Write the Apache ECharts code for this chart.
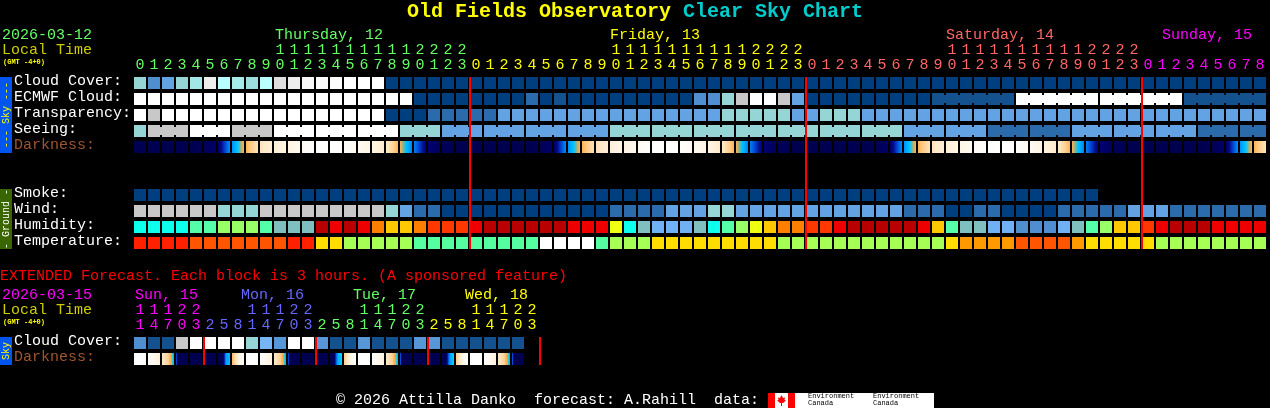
<!DOCTYPE html>
<html><head><meta charset="utf-8">
<style>html,body{margin:0;padding:0;background:#000}#c{width:1270px;height:408px}</style>
<script src="https://cdn.jsdelivr.net/npm/echarts@6/dist/echarts.min.js"></script>
</head><body><div id="c"></div>
<script>
const rowLabels = ['Cloud Cover:','ECMWF Cloud:','Transparency:','Seeing:','Darkness:','','','Smoke:','Wind:','Humidity:','Temperature:'];
const extRowLabels = ['Cloud Cover:','Darkness:'];

const hours = [0,1,2,3,4,5,6,7,8,9,10,11,12,13,14,15,16,17,18,19,20,21,22,23,
 0,1,2,3,4,5,6,7,8,9,10,11,12,13,14,15,16,17,18,19,20,21,22,23,
 0,1,2,3,4,5,6,7,8,9,10,11,12,13,14,15,16,17,18,19,20,21,22,23,
 0,1,2,3,4,5,6,7,8];
const extHours = [11,14,17,20,23,2,5,8,11,14,17,20,23,2,5,8,11,14,17,20,23,2,5,8,11,14,17,20,23];
const dayOfCol = [0,0,0,0,0,0,0,0,0,0,0,0,0,0,0,0,0,0,0,0,0,0,0,0,
 1,1,1,1,1,1,1,1,1,1,1,1,1,1,1,1,1,1,1,1,1,1,1,1,
 2,2,2,2,2,2,2,2,2,2,2,2,2,2,2,2,2,2,2,2,2,2,2,2,
 3,3,3,3,3,3,3,3,3];
const extDayOfCol = [3,3,3,3,3,4,4,4,4,4,4,4,4,0,0,0,0,0,0,0,0,1,1,1,1,1,1,1,1];
const dayColors = ['#66FF66','#FFFF00','#FF6666','#FF00FF','#6666FF'];

const cloudCover = [6,3,4,6,6.4,9,7,6.5,6.2,7,8.6,9,9.6,9.8,9.8,10,10,10,0,0,0,0,0,0,
 0,0,0,0,0,0,0,0,0,0,0,0,0,0,0,0,0,0,0,0,0,0,0,0,
 0,0,0,0,0,0,0,0,0,0,0,0,0,0,0,0,0,0,0,0,0,0,0,0,
 0,0,0,0,0,0,0,0,0];
const ecmwfCloud = [10,10,10,10,10,10,10,10,10,10,10,10,10,10,10,10,10,10,10,10,0,0,0,0,
 0,0,0,0,2,0,1,0,0,0,0,0,0,0,0,0,3,3,6,8,10,10,8,4,
 0,0,0,0,0,0,0,0,0,1,1,1,1,1,1,10,10,10,10,10,10,10,10,10,
 10,10,10,1,1,1,1,1,1];
const transparency = [10,8,10,10,10,10,10,10,10,10,10,10,10,10,10,10,10,10,0,0,0,2,2,2,
 2,2,4,4,4,4,4,4,4,4,4,4,4,4,4,4,4,4,6,6,6,6,6,4,
 4,6,6,6,4,4,4,4,4,4,4,4,4,4,4,4,4,4,4,4,4,4,4,4,
 4,4,4,4,4,4,4,4,4];
const seeing = [6,8,8,8,10,10,10,8,8,8,10,10,10,10,10,10,10,10,10,6,6,6,4,4,
 4,4,4,4,4,4,4,4,4,4,6,6,6,6,6,6,6,6,6,6,6,6,6,6,
 6,6,6,6,6,6,6,4,4,4,4,4,4,2,2,2,2,2,2,4,4,4,4,4,
 4,4,4,4,2,2,2,2,2];
const smoke = [0,0,0,0,0,0,0,0,0,0,0,0,0,0,0,0,0,0,0,0,0,0,0,0,
 0,0,0,0,0,0,0,0,0,0,0,0,0,0,0,0,0,0,0,0,0,0,0,0,
 0,0,0,0,0,0,0,0,0,0,0,0,0,0,0,0,0,0,0,0,0];
const wind = [8,8,8,8,8,8,6,6,6,8,8,8,8,8,8,8,8,8,6,4,2,2,0,0,
 0,0,0,0,0,0,0,0,0,0,2,2,2,2,4,4,4,6,6,4,4,4,4,4,
 4,4,4,4,4,4,4,2,2,2,0,0,2,2,0,0,0,0,2,2,2,2,2,4,
 4,4,2,2,2,2,2,2,2];
const humidity = [3,3,3,3,4,4,5,5,5,4,2,2,2,11,10,11,10,8,7,7,8,9,9,9,
 10,11,11,11,11,11,11,10,10,10,6,3,2,1,1,1,2,3,4,5,6,7,8,8,
 9,9,10,11,11,11,11,11,10,7,4,2,2,1,1,0,0,0,1,2,4,5,7,7,
 9,10,11,11,11,10,10,10,10];
const temperature = [0,0,0,0,1,1,1,1,1,1,1,0,0,3,3,4,4,4,4,4,5,5,5,5,
 5,5,5,5,5,6,6,6,6,5,4,4,4,3,3,3,3,3,3,3,3,3,4,4,
 4,4,4,4,4,4,4,4,4,4,3,2,2,2,2,1,1,1,1,2,3,3,3,3,
 3,4,4,4,4,4,4,4,4];
const darknessEdges = [0,0,0,0,0,2,5,28,45,58,65,72,80,94,100,94,82,72,62,45,26,8,2,0,
 0,0,0,0,0,1,5,28,45,57,66,73,81,94,100,95,83,72,61,45,26,8,2,0,
 0,0,0,0,0,1,5,28,45,58,65,74,82,95,100,94,82,71,62,45,26,8,2,0,
 0,0,0,0,0,1,5,28,45,58];
const seeingBlocks = [0,1,4,7,10,13,16,19,22,25,28,31,34,37,40,43,46,49,52,55,58,61,64,67,70,73,76,79];
const ecmwfBlocks = [57,63,69,75];

const extCloud = [3,1,1,8,10,10,10,10,6,5,3.4,10,10,3.4,1,1,3.4,1,1,1,3.4,3.4,1,1,1,1,1,1];
const extDarkness = [
 [100,100,100,98,95,90,88],[98,92,86,80,76,72,68],[60,58,55,52,46,41,32],[24,0,0,0,0,0,0],
 [0,0,0,0,0,0,0],[0,0,0,0,0,0,0],[0,0,0,10,30,32,34],[46,52,58,66,75,85,92],
 [100,100,100,100,100,100,98],[98,92,86,80,76,72,68],[60,58,55,52,46,41,32],[24,0,0,0,0,0,0],
 [0,0,0,0,0,0,0],[0,0,0,0,0,0,0],[0,0,0,20,32,36,38],[50,56,62,70,80,88,92],
 [100,100,100,100,100,100,98],[96,90,84,78,74,72,68],[60,58,55,52,46,41,32],[26,0,0,0,0,0,0],
 [0,0,0,0,0,0,0],[0,0,0,0,0,0,0],[0,0,0,18,30,34,39.5],[50,56,62,70,80,88,92],
 [100,100,100,100,100,100,98],[98,92,86,80,76,72,68],[60,58,55,52,46,41,32],[26,0,0,0,0,0,0]];
const midnightCols = [24,48,72];
const extMidnightCols = [5,13,21,29];

const skyScale = ['#003F7F','#13528F','#2C6BAB','#4F8FCF','#63A3E3','#76B6F6','#95D5D5','#B9FFFF','#C8C8C8','#EDEDED','#FFFFFF'];
const humidityScale = ['#4F8FCF','#70B0F5','#80BFBF','#0DFFEE','#55FFAA','#99FF66','#EEFF11','#FFC800','#FF8000','#FF3800','#EE0000','#B80000'];
const temperatureScale = ['#FF2000','#FF5500','#FF9900','#FFDD00','#A5FF55','#55FFA0','#FFFFFF'];
const darkStops = [[0,'#000050'],[10,'#000080'],[20,'#0050E0'],[30,'#00A0FF'],[38,'#00D0FF'],[42,'#FFA030'],[50,'#FFCC88'],[60,'#FFE8C8'],[70,'#FFF4E0'],[85,'#FFFBF5'],[100,'#FFFFFF']];

const FONT = '"Liberation Mono"';
const texts = [
 ['Old Fields Observatory',407,12,'#FFFF00','bold 20px '+FONT],
 ['Clear Sky Chart',683,12,'#00CCCC','bold 20px '+FONT],
 ['2026-03-12',2,35,'#66FF66','15px '+FONT],
 ['Local Time',2,50,'#CCCC00','15px '+FONT],
 ['(GMT -4+0)',3,62,'#FFFF00','bold 7px '+FONT],
 ['Thursday, 12',275,35,'#66FF66','15px '+FONT],
 ['Friday, 13',610,35,'#FFFF00','15px '+FONT],
 ['Saturday, 14',946,35,'#FF6666','15px '+FONT],
 ['Sunday, 15',1162,35,'#FF00FF','15px '+FONT],
 ['EXTENDED Forecast. Each block is 3 hours. (A sponsored feature)',0,276,'#FF0000','15px '+FONT],
 ['2026-03-15',2,295,'#FF00FF','15px '+FONT],
 ['Sun, 15',135,295,'#FF00FF','15px '+FONT],
 ['Mon, 16',241,295,'#6666FF','15px '+FONT],
 ['Tue, 17',353,295,'#66FF66','15px '+FONT],
 ['Wed, 18',465,295,'#FFFF00','15px '+FONT],
 ['Local Time',2,310,'#CCCC00','15px '+FONT],
 ['(GMT -4+0)',3,322,'#FFFF00','bold 7px '+FONT],
 ['\u00A9 2026 Attilla Danko  forecast: A.Rahill  data:',336,400,'#FFFFFF','15px '+FONT],
 ['Environment',808,396,'#000000','7px '+FONT],
 ['Canada',808,403,'#000000','7px '+FONT],
 ['Environment',873,396,'#000000','7px '+FONT],
 ['Canada',873,403,'#000000','7px '+FONT]
];

function hex(c){return [1,3,5].map(i=>parseInt(c.substr(i,2),16));}
function mix(a,b,t){const A=hex(a),B=hex(b);return 'rgb('+A.map((v,i)=>Math.round(v+(B[i]-v)*t)).join(',')+')';}
function levelColor(scale,v){const i=Math.floor(v);if(i>=scale.length-1)return scale[scale.length-1];return v===i?scale[i]:mix(scale[i],scale[i+1],v-i);}
function darkColor(v){for(let i=1;i<darkStops.length;i++){if(v<=darkStops[i][0]){const a=darkStops[i-1],b=darkStops[i];return mix(a[1],b[1],(v-a[0])/(b[0]-a[0]));}}return '#FFFFFF';}

const CELL_W=12,CELL_H=12,STUB_H=8;
function cellSeries(gridIndex,row,values,scale,blocks){
 const blockOf=i=>{if(!blocks)return null;let b=null;for(const s of blocks)if(i>=s)b=s;return b;};
 return {type:'custom',xAxisIndex:gridIndex,yAxisIndex:gridIndex,silent:true,animation:false,clip:false,
  data:values.map((v,i)=>[i,row,v]),
  renderItem(p,api){
   const i=api.value(0),v=api.value(2),c=api.coord([i,api.value(1)]),s=api.size([1,1]);
   const fill=levelColor(scale,v);
   const kids=[{type:'rect',shape:{x:c[0]-CELL_W/2,y:c[1]-CELL_H/2,width:CELL_W,height:CELL_H},style:{fill}}];
   if(blocks&&blockOf(i)!==null&&blockOf(i)===blockOf(i+1)&&i+1<values.length&&values[i+1]===v)
    kids.push({type:'rect',shape:{x:c[0]+CELL_W/2,y:c[1]-STUB_H/2,width:s[0]-CELL_W,height:STUB_H},style:{fill}});
   return {type:'group',children:kids};
  }};
}
function gradSeries(gridIndex,row,samples){
 return {type:'custom',xAxisIndex:gridIndex,yAxisIndex:gridIndex,silent:true,animation:false,clip:false,
  data:samples.map((v,i)=>[i,row]),
  renderItem(p,api){
   const i=api.value(0),c=api.coord([i,api.value(1)]),vals=samples[i];
   const stops=[];
   for(let k=0;k<vals.length-1;k++)for(let j=0;j<4;j++){
     stops.push({offset:(k+j/4)/(vals.length-1),color:darkColor(vals[k]+(vals[k+1]-vals[k])*j/4)});
   }
   stops.push({offset:1,color:darkColor(vals[vals.length-1])});
   return {type:'rect',shape:{x:c[0]-CELL_W/2,y:c[1]-CELL_H/2,width:CELL_W,height:CELL_H},
    style:{fill:new echarts.graphic.LinearGradient(0,0,1,0,stops)}};
  }};
}
function lineSeries(gridIndex,cols,firstRow,lastRow){
 return {type:'custom',xAxisIndex:gridIndex,yAxisIndex:gridIndex,silent:true,animation:false,clip:false,z:5,
  data:cols.map(c=>[c,firstRow]),
  renderItem(p,api){
   const t=api.coord([api.value(0),firstRow]),b=api.coord([api.value(0),lastRow]),s=api.size([1,1]);
   return {type:'rect',shape:{x:t[0]-s[0]/2,y:t[1]-CELL_H/2,width:2,height:b[1]-t[1]+CELL_H},style:{fill:'#FF0000'}};
  }};
}
function xAxisOf(gridIndex,hrs,colors,count){
 const cats=[];for(let i=0;i<count;i++)cats.push(i);
 return {type:'category',gridIndex,position:'top',data:cats,axisLine:{show:false},axisTick:{show:false},splitLine:{show:false},
  axisLabel:{show:true,interval:0,margin:2,hideOverlap:false,fontFamily:FONT,fontSize:15,lineHeight:15,
   formatter:(v,i)=>{const h=hrs[i];if(h===undefined)return '';return h>=10?Math.floor(h/10)+'\n'+(h%10):' \n'+h;},
   color:(v,i)=>colors(i)}};
}
function yAxisOf(gridIndex,labels){
 return {type:'category',gridIndex,inverse:true,data:labels.map((l,i)=>i),axisLine:{show:false},axisTick:{show:false},splitLine:{show:false},
  axisLabel:{interval:0,margin:119,align:'left',fontFamily:FONT,fontSize:15,verticalAlign:'bottom',lineHeight:4,formatter:(v,i)=>labels[i],
   color:(v,i)=>labels[i]==='Darkness:'?'#A0562D':'#FFFFFF'}};
}
const mainDarkness=hours.map((h,i)=>[darknessEdges[i],darknessEdges[i+1]]);
const option={backgroundColor:'#000',animation:false,
 grid:[{left:133,top:75,width:hours.length*14,height:rowLabels.length*16},{left:133,top:335,width:30*14,height:32}],
 xAxis:[xAxisOf(0,hours,i=>dayColors[dayOfCol[i]],hours.length),
        xAxisOf(1,extHours,i=>extDayOfCol[i]===undefined?'#000':dayColors[extDayOfCol[i]],30)],
 yAxis:[yAxisOf(0,rowLabels),yAxisOf(1,extRowLabels)],
 series:[
  cellSeries(0,0,cloudCover,skyScale),
  cellSeries(0,1,ecmwfCloud,skyScale,ecmwfBlocks),
  cellSeries(0,2,transparency,skyScale),
  cellSeries(0,3,seeing,skyScale,seeingBlocks),
  gradSeries(0,4,mainDarkness),
  cellSeries(0,7,smoke,skyScale),
  cellSeries(0,8,wind,skyScale),
  cellSeries(0,9,humidity,humidityScale),
  cellSeries(0,10,temperature,temperatureScale),
  lineSeries(0,midnightCols,0,10),
  cellSeries(1,0,extCloud,skyScale),
  gradSeries(1,1,extDarkness),
  lineSeries(1,extMidnightCols,0,1)
 ],
 graphic:[
  {type:'rect',shape:{x:0,y:77,width:12,height:76},style:{fill:'#0055EE'}},
  {type:'rect',shape:{x:0,y:189,width:12,height:60},style:{fill:'#3A6600'}},
  {type:'rect',shape:{x:0,y:337,width:12,height:28},style:{fill:'#0055EE'}},
  {type:'text',x:6,y:115,rotation:Math.PI/2,style:{text:'--- Sky ---',fill:'#FFFF00',font:'10px '+FONT,align:'center',verticalAlign:'middle'}},
  {type:'text',x:6,y:219,rotation:Math.PI/2,style:{text:'- Ground -',fill:'#FFFFFF',font:'10px '+FONT,align:'center',verticalAlign:'middle'}},
  {type:'text',x:6,y:351,rotation:Math.PI/2,style:{text:'Sky',fill:'#FFFF00',font:'10px '+FONT,align:'center',verticalAlign:'middle'}},
  {type:'rect',shape:{x:768,y:393,width:166,height:15},style:{fill:'#FFFFFF'}},
  {type:'rect',shape:{x:768,y:393,width:7,height:15},style:{fill:'#FF0000'}},
  {type:'rect',shape:{x:788,y:393,width:7,height:15},style:{fill:'#FF0000'}},
  {type:'polygon',shape:{points:[[781.5,395],[783,398],[785,397.5],[784.5,400],[786,400.5],[783,403],[782,403],[782,406],[781,406],[781,403],[780,403],[777,400.5],[778.5,400],[778,397.5],[780,398]]},style:{fill:'#FF0000'}}
 ].concat(texts.map(t=>({type:'text',x:t[1],y:t[2],z:10,style:{text:t[0],fill:t[3],font:t[4],verticalAlign:'middle'}})))
};
const chart=echarts.init(document.getElementById('c'),null,{renderer:'canvas',width:1270,height:408});
chart.setOption(option);
</script></body></html>
